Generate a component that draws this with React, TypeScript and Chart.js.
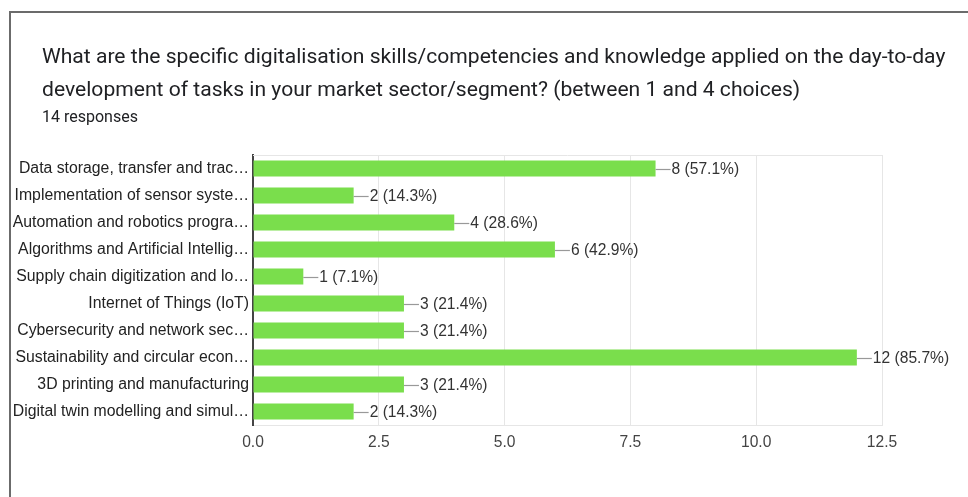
import React, { useEffect, useRef } from "react";
import { Chart, registerables } from "chart.js";

Chart.register(...registerables);

const titleLines = [
  "What are the specific digitalisation skills/competencies and knowledge applied on the day-to-day",
  "development of tasks in your market sector/segment? (between 1 and 4 choices)",
];
const responses = 14;
const categories = [
  "Data storage, transfer and trac\u2026",
  "Implementation of sensor syste\u2026",
  "Automation and robotics progra\u2026",
  "Algorithms and Artificial Intellig\u2026",
  "Supply chain digitization and lo\u2026",
  "Internet of Things (IoT)",
  "Cybersecurity and network sec\u2026",
  "Sustainability and circular econ\u2026",
  "3D printing and manufacturing",
  "Digital twin modelling and simul\u2026",
];
const counts = [8, 2, 4, 6, 1, 3, 3, 12, 3, 2];
const xTicks = [0, 2.5, 5, 7.5, 10, 12.5];

const labelFont = "Arial, 'Liberation Sans', sans-serif";
const fontSize = 15.6;

const valueLabels = {
  id: "valueLabels",
  afterDatasetsDraw(chart: any) {
    const ctx = chart.ctx;
    const meta = chart.getDatasetMeta(0);
    ctx.save();
    meta.data.forEach((bar: any, i: number) => {
      const v = counts[i];
      const pct = ((v / responses) * 100).toFixed(1);
      const x = bar.x;
      const y = bar.y;
      ctx.strokeStyle = "#999999";
      ctx.lineWidth = 1.2;
      ctx.beginPath();
      ctx.moveTo(x, Math.round(y) + 0.5);
      ctx.lineTo(x + 15, Math.round(y) + 0.5);
      ctx.stroke();
      ctx.fillStyle = "#333333";
      ctx.font = `${fontSize}px ${labelFont}`;
      ctx.textAlign = "left";
      ctx.textBaseline = "middle";
      ctx.fillText(`${v} (${pct}%)`, x + 16, y + 1);
    });
    const a = chart.chartArea;
    ctx.strokeStyle = "#e6e6e6";
    ctx.lineWidth = 1;
    ctx.beginPath();
    ctx.moveTo(a.left, a.top + 0.5);
    ctx.lineTo(a.right, a.top + 0.5);
    ctx.stroke();
    ctx.restore();
  },
};

export default function App() {
  const ref = useRef<HTMLCanvasElement>(null);
  useEffect(() => {
    if (!ref.current) return;
    const chart = new Chart(ref.current, {
      type: "bar",
      data: {
        labels: categories,
        datasets: [
          {
            data: counts,
            backgroundColor: "#7ade4c",
            borderWidth: 0,
            barPercentage: 0.6,
            categoryPercentage: 1,
          },
        ],
      },
      options: {
        indexAxis: "y",
        animation: false,
        responsive: false,
        maintainAspectRatio: false,
        layout: { padding: { left: 0, right: 86, top: 155, bottom: 32 } },
        plugins: { legend: { display: false }, tooltip: { enabled: false } },
        scales: {
          x: {
            min: 0,
            max: 12.5,
            afterBuildTicks(scale: any) {
              scale.ticks = xTicks.map((v) => ({ value: v }));
            },
            afterFit(scale: any) {
              scale.height = 40;
            },
            ticks: {
              padding: 8,
              color: "#444444",
              font: { family: labelFont, size: fontSize },
              callback: (v: any) => Number(v).toFixed(1),
            },
            grid: { color: "#e6e6e6", drawTicks: false },
            border: { color: "#e6e6e6" },
          },
          y: {
            afterFit(scale: any) {
              scale.width = 253;
            },
            ticks: {
              padding: 4,
              color: "#222222",
              font: { family: labelFont, size: 15.8 },
            },
            grid: { display: false, drawTicks: false },
            border: { color: "#444444", width: 2 },
          },
        },
      },
      plugins: [valueLabels],
    });
    return () => chart.destroy();
  }, []);

  return (
    <div
      style={{
        position: "fixed",
        left: 0,
        top: 0,
        width: 968,
        height: 497,
        background: "#ffffff",
        overflow: "hidden",
      }}
    >
      <canvas ref={ref} width={968} height={497} style={{ position: "absolute", left: 0, top: 0 }} />
      <div
        style={{
          position: "absolute",
          left: 9,
          top: 11,
          width: 980,
          height: 520,
          borderTop: "2px solid #6b6b6b",
          borderLeft: "2px solid #6b6b6b",
          boxSizing: "border-box",
          pointerEvents: "none",
        }}
      />
      <div
        style={{
          position: "absolute",
          left: 42,
          top: 39,
          fontFamily: "Roboto, sans-serif",
          fontSize: 21.1,
          lineHeight: "33px",
          color: "#202124",
          whiteSpace: "nowrap",
        }}
      >
        {titleLines.map((t, i) => (
          <div key={i}>{t}</div>
        ))}
      </div>
      <div
        style={{
          position: "absolute",
          left: 42,
          top: 107,
          fontFamily: "Roboto, sans-serif",
          fontSize: 16,
          lineHeight: "20px",
          color: "#202124",
        }}
      >
        {responses} responses
      </div>
    </div>
  );
}
